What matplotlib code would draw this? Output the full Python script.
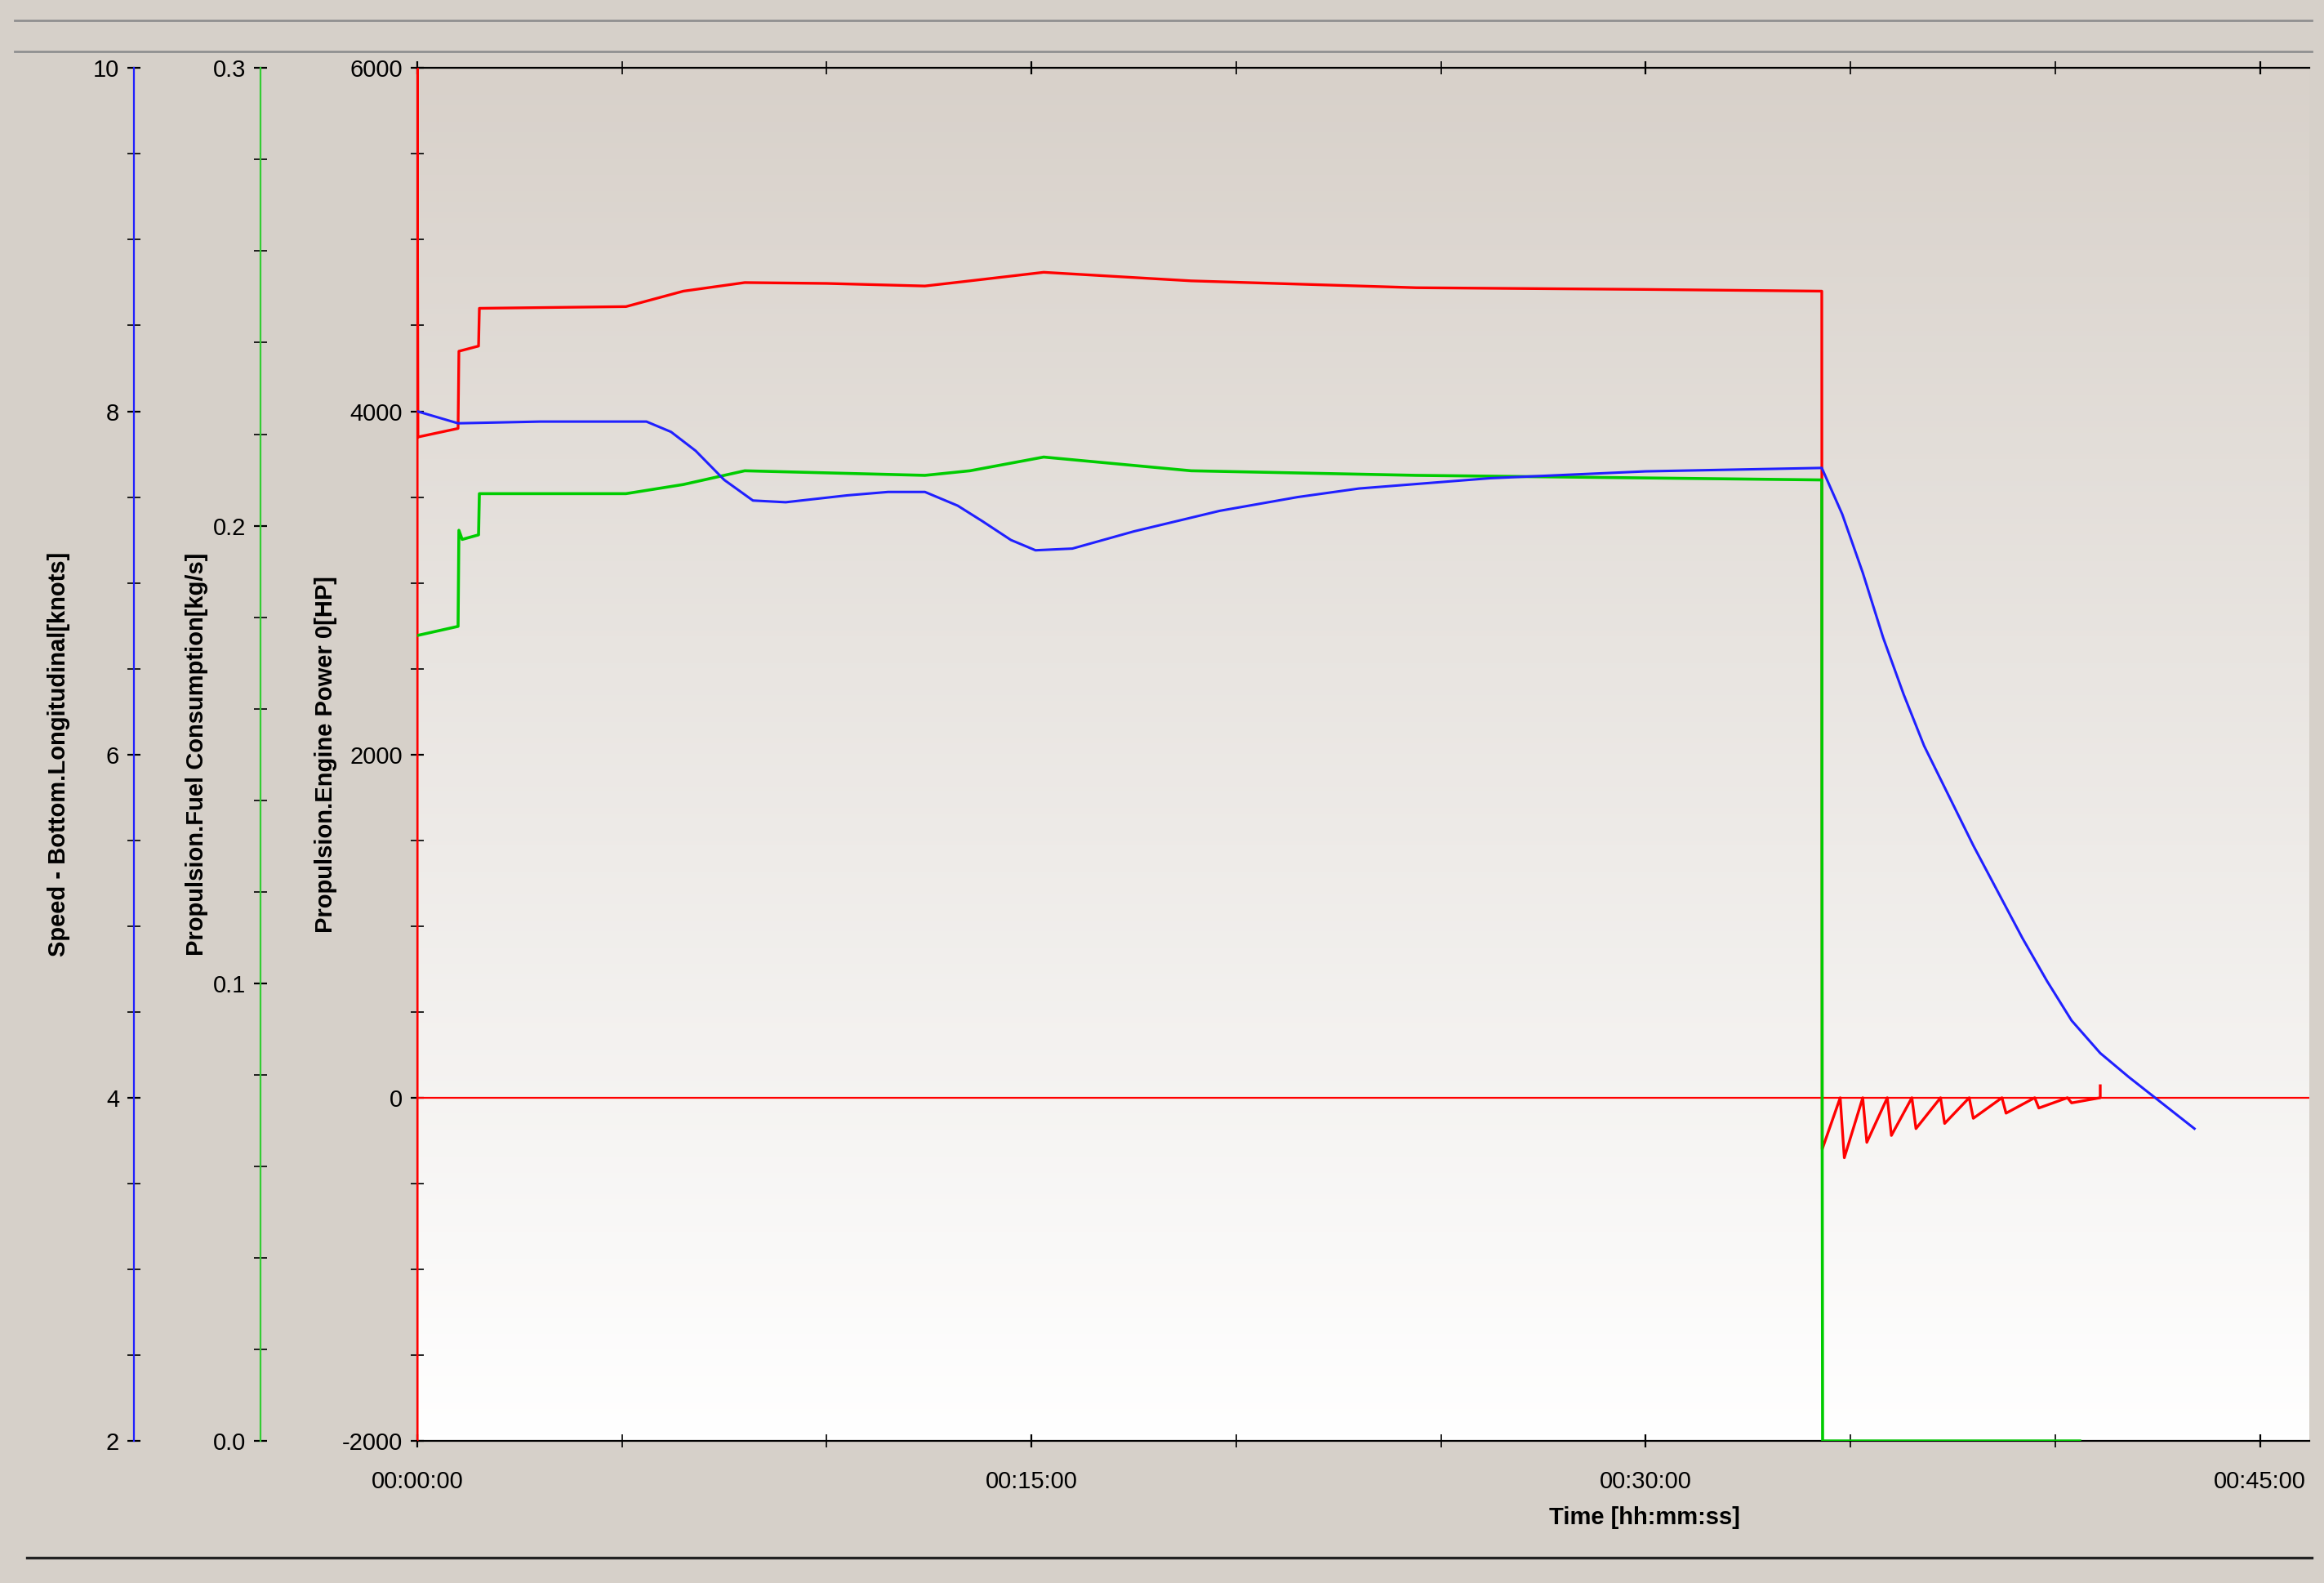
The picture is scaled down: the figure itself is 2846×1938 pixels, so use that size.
import numpy as np
import matplotlib
matplotlib.use("Agg")
import matplotlib.pyplot as plt
from matplotlib.ticker import MultipleLocator, FuncFormatter

plt.rcParams['font.family'] = ['Liberation Sans', 'DejaVu Sans']
plt.rcParams['axes.unicode_minus'] = False

# time in minutes
power_t = [0, 0, 0.02, 1.0, 1.02, 1.5, 1.52, 5.1, 6.5, 8.0, 10, 12.4, 13.5, 15.3, 18.9, 24.4, 30, 34.3, 34.31,
           34.75, 34.85, 35.3, 35.4, 35.9, 36.0, 36.5, 36.6, 37.2, 37.3, 37.9, 38.0, 38.7, 38.8, 39.5, 39.6, 40.3, 40.4, 41.1, 41.1]
power_v = [-2000, 6000, 3850, 3900, 4350, 4380, 4600, 4610, 4700, 4750, 4745, 4730, 4760, 4810, 4760, 4720, 4710, 4700, -300,
           0, -350, 0, -260, 0, -220, 0, -180, 0, -150, 0, -120, 0, -90, 0, -60, 0, -30, 0, 70]
fuel_t = [0, 1.0, 1.02, 1.1, 1.5, 1.52, 5.1, 6.5, 8.0, 12.4, 13.5, 15.3, 18.9, 24.4, 34.3, 34.31, 34.32, 40.6]
fuel_v = [0.176, 0.178, 0.199, 0.197, 0.198, 0.207, 0.207, 0.209, 0.212, 0.211, 0.212, 0.215, 0.212, 0.211, 0.210, 0.065, 0.0, 0.0]
speed_t = [0, 1.0, 3.0, 5.6, 6.2, 6.8, 7.5, 8.2, 9.0, 10.5, 11.5, 12.4, 13.2, 13.8, 14.5, 15.1, 16.0, 17.5, 19.6, 21.5, 23.0,
           26.2, 30.0, 34.3, 34.8, 35.3, 35.8, 36.3, 36.8, 37.4, 38.0, 38.6, 39.2, 39.8, 40.4, 41.1, 41.8, 42.6, 43.4]
speed_v = [8.0, 7.93, 7.94, 7.94, 7.88, 7.77, 7.6, 7.48, 7.47, 7.51, 7.53, 7.53, 7.45, 7.36, 7.25, 7.19, 7.2, 7.3, 7.42, 7.5, 7.55,
           7.61, 7.65, 7.67, 7.4, 7.06, 6.68, 6.35, 6.05, 5.76, 5.47, 5.2, 4.93, 4.68, 4.45, 4.26, 4.12, 3.97, 3.82]
xticks = [0, 15, 30, 45]
xticklabels = ["00:00:00", "00:15:00", "00:30:00", "00:45:00"]

W, H = 1560, 1070
fig = plt.figure(figsize=(14.23, 9.69), dpi=200)
fig.patch.set_facecolor("#d6d0c9")
L, R, B, T = 280 / W, 1550 / W, 1 - 974 / H, 1 - 46 / H
ax = fig.add_axes([L, B, R - L, T - B])
ax.set_zorder(3)
ax.patch.set_visible(False)

bg = fig.add_axes([L, B, R - L, T - B], zorder=0)
grad = np.linspace(0, 1, 256).reshape(-1, 1)
c1 = np.array([0xd8, 0xd1, 0xca]) / 255
c2 = np.array([1, 1, 1])
img = c1[None, None, :] * (1 - grad[:, :, None]) + c2[None, None, :] * grad[:, :, None]
bg.imshow(img, aspect="auto", extent=[0, 1, 0, 1])
bg.axis("off")

for y in [14, 35]:
    fig.add_artist(plt.Line2D([10 / W, 1552 / W], [1 - y / H] * 2, color="#909090", lw=1))
fig.add_artist(plt.Line2D([18 / W, 1552 / W], [1 - 1053 / H] * 2, color="#222222", lw=1.2))

ax.plot(power_t, power_v, color="#ff0000", lw=1.2, zorder=5)
ax.axhline(0, color="#ff0000", lw=0.8)
ax.set_xlim(0, 46.2)
ax.set_ylim(-2000, 6000)
ax.yaxis.set_major_locator(MultipleLocator(2000))
ax.yaxis.set_minor_locator(MultipleLocator(500))
ax.set_xticks(xticks)
ax.set_xticklabels(xticklabels)
ax.xaxis.set_minor_locator(MultipleLocator(5))
ax.tick_params(axis="x", which="both", direction="inout", top=True, length=6, labelsize=10.5, pad=10)
ax.tick_params(axis="y", which="both", direction="inout", length=6, labelsize=10.5)
ax.spines["right"].set_visible(False)
ax.spines["left"].set_color("#ff0000")
ax.set_ylabel("Propulsion.Engine Power 0[HP]", fontsize=10.5, fontweight="bold", labelpad=2)
fig.text(1104 / W, 1 - 1026 / H, "Time [hh:mm:ss]", ha="center", va="center", fontsize=10.5, fontweight="bold")

ax2 = ax.twinx()
ax2.yaxis.set_label_position("left")
ax2.yaxis.set_ticks_position("left")
ax2.spines["left"].set_position(("axes", (175 - 280) / 1270))
for s in ["right", "top", "bottom"]:
    ax2.spines[s].set_visible(False)
ax2.spines["left"].set_color("#33cc33")
ax2.plot(fuel_t, fuel_v, color="#00cc00", lw=1.3)
ax2.set_ylim(0, 0.3)
ax2.yaxis.set_major_locator(MultipleLocator(0.1))
ax2.yaxis.set_minor_locator(MultipleLocator(0.02))
ax2.yaxis.set_major_formatter(FuncFormatter(lambda v, p: f"{v:.1f}"))
ax2.tick_params(axis="y", which="both", direction="inout", length=6, labelsize=10.5)
ax2.set_ylabel("Propulsion.Fuel Consumption[kg/s]", fontsize=10.5, fontweight="bold", labelpad=2)

ax3 = ax.twinx()
ax3.yaxis.set_label_position("left")
ax3.yaxis.set_ticks_position("left")
ax3.spines["left"].set_position(("axes", (90 - 280) / 1270))
for s in ["right", "top", "bottom"]:
    ax3.spines[s].set_visible(False)
ax3.spines["left"].set_color("#2020ff")
ax3.plot(speed_t, speed_v, color="#2020ff", lw=1.1)
ax3.set_ylim(2, 10)
ax3.yaxis.set_major_locator(MultipleLocator(2))
ax3.yaxis.set_minor_locator(MultipleLocator(0.5))
ax3.tick_params(axis="y", which="both", direction="inout", length=6, labelsize=10.5)
ax3.set_ylabel("Speed - Bottom.Longitudinal[knots]", fontsize=10.5, fontweight="bold", labelpad=10)

fig.savefig("out.png", dpi=200, facecolor=fig.get_facecolor())
